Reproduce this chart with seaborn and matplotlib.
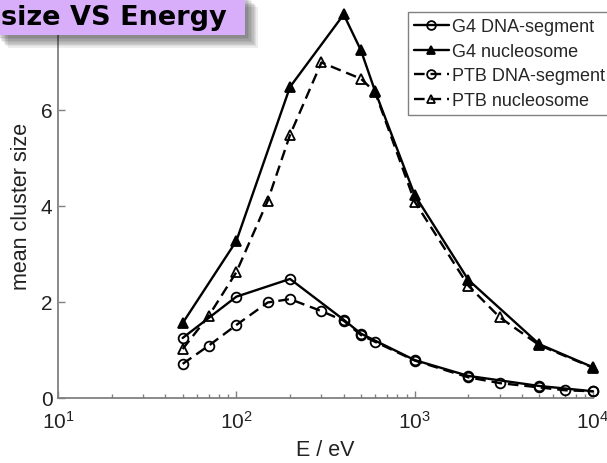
import matplotlib
matplotlib.use("Agg")
import matplotlib.pyplot as plt
import seaborn as sns
import pandas as pd
from matplotlib.patches import Rectangle
from matplotlib.ticker import LogLocator, NullFormatter

# ---------------- data ----------------
e_g4_dna = [50, 100, 200, 400, 500, 1000, 2000, 5000, 10000]
g4_dna = [1.24, 2.10, 2.47, 1.62, 1.33, 0.78, 0.45, 0.24, 0.13]

e_g4_nuc = [50, 100, 200, 400, 500, 600, 1000, 2000, 5000, 10000]
g4_nuc = [1.55, 3.26, 6.47, 7.98, 7.23, 6.38, 4.22, 2.45, 1.11, 0.63]

e_ptb_dna = [50, 70, 100, 150, 200, 300, 400, 500, 600, 1000, 2000, 3000, 5000, 7000, 10000]
ptb_dna = [0.70, 1.08, 1.51, 1.98, 2.05, 1.80, 1.60, 1.30, 1.16, 0.77, 0.42, 0.30, 0.21, 0.15, 0.13]

e_ptb_nuc = [50, 70, 100, 150, 200, 300, 500, 600, 1000, 2000, 3000, 5000, 10000]
ptb_nuc = [1.01, 1.70, 2.61, 4.10, 5.47, 6.98, 6.64, 6.36, 4.08, 2.33, 1.67, 1.09, 0.62]

labels = ["G4 DNA-segment", "G4 nucleosome", "PTB DNA-segment", "PTB nucleosome"]
y_ticks = [0, 2, 4, 6]
title_text = "size VS Energy"
x_label = "E / eV"
y_label = "mean cluster size"

# ---------------- style ----------------
sns.set_style("ticks")
plt.rcParams["font.family"] = ["Liberation Sans", "DejaVu Sans"]
plt.rcParams["mathtext.default"] = "regular"

W, H = 607, 464
fig = plt.figure(figsize=(W / 100, H / 100), dpi=100)
fig.patch.set_facecolor("white")

ax_left, ax_right, ax_bottom, ax_top = 58, 593, 398.5, 14.5
ax = fig.add_axes([ax_left / W, 1 - ax_bottom / H,
                   (ax_right - ax_left) / W, (ax_bottom - ax_top) / H])

series = [
    (e_g4_dna, g4_dna, labels[0], "o", "none", "-"),
    (e_g4_nuc, g4_nuc, labels[1], "^", "black", "-"),
    (e_ptb_dna, ptb_dna, labels[2], "o", "none", (0, (4.5, 2.5))),
    (e_ptb_nuc, ptb_nuc, labels[3], "^", "none", (0, (4.5, 2.5))),
]

handles = []
for xs, ys, lab, mk, mfc, ls in series:
    df = pd.DataFrame({"E": xs, "size": ys})
    sns.lineplot(data=df, x="E", y="size", ax=ax, color="black",
                 marker=mk, markersize=7, markerfacecolor=mfc,
                 markeredgecolor="black", markeredgewidth=1.3,
                 linestyle=ls, linewidth=1.7, clip_on=False, legend=False)
    line = ax.get_lines()[-1]
    line.set_label(lab)
    handles.append(line)

ax.set_xscale("log")
ax.set_xlim(10, 1e4)
ax.set_ylim(0, 8)
ax.set_yticks(y_ticks)
ax.xaxis.set_minor_locator(LogLocator(base=10, subs=range(2, 10)))
ax.xaxis.set_minor_formatter(NullFormatter())

ax.set_xlabel(x_label, fontsize=15.5, color="#222222", labelpad=5)
ax.set_ylabel(y_label, fontsize=15.5, color="#222222", labelpad=6)

for s in ["top", "right"]:
    ax.spines[s].set_visible(False)
for s in ["left", "bottom"]:
    ax.spines[s].set_color("#808080")
    ax.spines[s].set_linewidth(1.3)

ax.tick_params(axis="both", which="major", direction="in", length=5,
               width=1, color="#808080", labelsize=15, labelcolor="#222222")
ax.tick_params(axis="x", which="major", pad=9)
ax.tick_params(axis="y", which="major", pad=4)
ax.tick_params(axis="x", which="minor", direction="in", length=3,
               width=1, color="#808080")

leg = fig.legend(handles=handles, labels=labels, loc="upper left",
                 bbox_to_anchor=(408 / W, 1 - 13 / H), frameon=True,
                 fancybox=False, fontsize=13, handlelength=1.9,
                 handletextpad=0.2, labelspacing=0.42, borderpad=0.35,
                 borderaxespad=0, markerscale=0.9)
leg.get_frame().set_edgecolor("#808080")
leg.get_frame().set_linewidth(1.0)
leg.get_frame().set_facecolor("white")
leg.get_frame().set_alpha(1)

# ---------------- title box with soft shadow ----------------
bx0, by0, bx1, by1 = -5, -5, 245, 36  # pixels (y from top)
for i in range(8):
    off = 3 + i * 1.4
    fig.patches.append(Rectangle((bx0 / W + off / W, 1 - (by1 + off) / H),
                                 (bx1 - bx0) / W, (by1 - by0) / H,
                                 transform=fig.transFigure,
                                 facecolor="black", edgecolor="none",
                                 alpha=0.07, zorder=20))
fig.patches.append(Rectangle((bx0 / W, 1 - by1 / H), (bx1 - bx0) / W,
                             (by1 - by0) / H, transform=fig.transFigure,
                             facecolor="#d8aefb", edgecolor="none",
                             zorder=21))
fig.text(1 / W, 1 - 25 / H, title_text, fontsize=19.5, fontweight="bold",
         family="DejaVu Sans", color="black", ha="left", va="baseline",
         zorder=22)

fig.savefig("out.png", dpi=100)
